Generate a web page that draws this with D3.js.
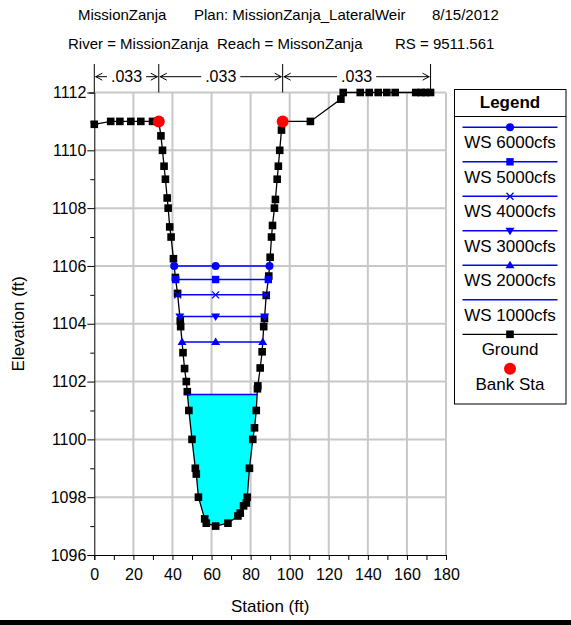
<!DOCTYPE html>
<html>
<head>
<meta charset="utf-8">
<script src="https://cdn.jsdelivr.net/npm/d3@7"></script>
<style>
  body { margin: 0; background: #fff; }
  svg { display: block; font-family: "Liberation Sans", Arial, sans-serif; }
</style>
</head>
<body>
<svg id="chart" width="571" height="625"></svg>
<script>
// Cross section ground survey: station (ft) and elevation (ft)
const groundStation = [
  0, 8.4, 13.1, 18.7, 23.8, 29.8, 33.0,
  34.1, 34.9, 35.7, 36.4, 37.3, 37.8, 38.6, 39.3, 40.5,
  41.5, 42.6, 44.0, 44.2, 45.4, 46.2, 47.1, 47.6, 48.4,
  50.0, 51.7, 52.2, 53.3, 56.5, 57.3, 62.1, 68.4, 73.5, 74.7, 76.4, 77.8, 78.3,
  79.4, 81.1, 82.0, 82.9, 83.5, 83.7, 84.9, 85.9, 86.7, 87.1, 88.0, 89.3,
  90.0, 90.7, 91.2, 92.2, 92.7, 93.6, 94.2, 94.9, 95.8, 96.4,
  110.6, 126.2, 127.4, 136.1, 140.7, 145.3, 149.7, 154.0, 164.5, 167.3, 169.6, 172.1
];
const groundElev = [
  1110.9, 1111.0, 1111.0, 1111.0, 1111.0, 1111.0, 1111.0,
  1110.5, 1110.0, 1109.45, 1109.0, 1108.35, 1108.0, 1107.35, 1107.0, 1106.25,
  1105.6, 1105.05, 1104.1, 1103.9, 1103.0, 1102.45, 1102.0, 1101.65, 1101.0,
  1100.0, 1099.0, 1098.8, 1098.0, 1097.25, 1097.1, 1097.0, 1097.1, 1097.35, 1097.45, 1097.7, 1097.8, 1098.0,
  1099.0, 1100.0, 1100.4, 1101.0, 1101.75, 1101.85, 1102.47, 1103.03, 1103.9, 1104.18, 1104.98, 1105.65,
  1106.3, 1107.0, 1107.4, 1108.0, 1108.3, 1109.0, 1109.45, 1110.0, 1110.7, 1111.0,
  1111.0, 1111.77, 1112.0, 1112.0, 1112.0, 1112.0, 1112.0, 1112.0, 1112.0, 1112.0, 1112.0, 1112.0
];

// Bank stations
const bankStations = [33.0, 96.4];
const bankElev = [1111.0, 1111.0];

// Manning's n regions
const nBreaks = [0, 33.0, 96.4, 172.1];
const nValues = [".033", ".033", ".033"];

// Water surface profiles
const profileNames = ["WS 6000cfs", "WS 5000cfs", "WS 4000cfs", "WS 3000cfs", "WS 2000cfs", "WS 1000cfs"];
const profileElev = [1106.0, 1105.53, 1105.0, 1104.25, 1103.37, 1101.55];
const profileSymbol = ["circle", "square", "cross", "triangleDown", "triangleUp", "none"];

// Axis ticks
const xTicks = [0, 20, 40, 60, 80, 100, 120, 140, 160, 180];
const yTicks = [1096, 1098, 1100, 1102, 1104, 1106, 1108, 1110, 1112];

const titleLine1 = [["MissionZanja", 78], ["Plan: MissionZanja_LateralWeir", 194], ["8/15/2012", 432]];
const titleLine2 = [["River = MissionZanja", 68], ["Reach = MissonZanja", 217], ["RS = 9511.561", 395]];

const svg = d3.select("#chart");
const blue = "#0000ff";
const sq = 7.6; // ground point marker size

const x = d3.scaleLinear().domain([0, 180]).range([94.3, 446]);
const y = d3.scaleLinear().domain([1096, 1112]).range([555, 92.5]);

const ground = groundStation.map((s, i) => ({ s, e: groundElev[i] }));

// Titles
svg.append("g").selectAll("text").data(titleLine1).join("text")
  .attr("x", d => d[1]).attr("y", 20).attr("font-size", 15).text(d => d[0]);
svg.append("g").selectAll("text").data(titleLine2).join("text")
  .attr("x", d => d[1]).attr("y", 49).attr("font-size", 15).text(d => d[0]);

// Gridlines
const grid = svg.append("g").attr("stroke", "#c8c8c8").attr("stroke-width", 2);
grid.selectAll("line.v").data(xTicks.slice(1)).join("line")
  .attr("x1", d => x(d)).attr("x2", d => x(d)).attr("y1", y(1096)).attr("y2", y(1112));
grid.selectAll("line.h").data(yTicks.slice(1)).join("line")
  .attr("x1", x(0)).attr("x2", x(180)).attr("y1", d => y(d)).attr("y2", d => y(d));

// Axes
const xAxis = d3.axisBottom(x).tickValues(d3.range(0, 181, 10)).tickSize(5)
  .tickFormat(d => xTicks.includes(d) ? d : "");
const gx = svg.append("g").attr("transform", `translate(0,${y(1096)})`).call(xAxis);
gx.select(".domain").attr("stroke", "#000");
gx.selectAll("text").attr("font-size", 16).attr("fill", "#000")
  .attr("font-family", "Liberation Sans, Arial, sans-serif").attr("dy", "1.05em");

const yAxis = d3.axisLeft(y).tickValues(d3.range(1096, 1113, 1)).tickSize(5)
  .tickFormat(d => yTicks.includes(d) ? d : "");
const gy = svg.append("g").attr("transform", `translate(${x(0)},0)`).call(yAxis);
gy.select(".domain").attr("stroke", "#000");
gy.selectAll(".tick line").attr("x2", d => yTicks.includes(d) ? -7 : -4);
gy.selectAll("text").attr("font-size", 16).attr("fill", "#000").attr("x", -8)
  .attr("font-family", "Liberation Sans, Arial, sans-serif");

svg.append("text").attr("x", (x(0) + x(180)) / 2).attr("y", 612)
  .attr("text-anchor", "middle").attr("font-size", 17).text("Station (ft)");
svg.append("text").attr("transform", `translate(24,${(y(1096) + y(1112)) / 2}) rotate(-90)`)
  .attr("text-anchor", "middle").attr("font-size", 17).text("Elevation (ft)");

// Where a water surface meets the ground on each side of the thalweg
const thalweg = d3.minIndex(ground, d => d.e);
function crossing(elev, dir) {
  let i = thalweg;
  while (i + dir >= 0 && i + dir < ground.length && ground[i + dir].e < elev) i += dir;
  const a = ground[i], b = ground[i + dir];
  const t = (elev - a.e) / (b.e - a.e);
  return { s: a.s + t * (b.s - a.s), i };
}

// Lowest profile: filled water area
const lowIdx = profileElev.length - 1;
const lowE = profileElev[lowIdx];
const L = crossing(lowE, -1), R = crossing(lowE, 1);
const waterPts = [{ s: L.s, e: lowE }]
  .concat(ground.slice(L.i, R.i + 1))
  .concat([{ s: R.s, e: lowE }]);
svg.append("path")
  .attr("d", d3.line().x(d => x(d.s)).y(d => y(d.e))(waterPts) + "Z")
  .attr("fill", "#00ffff").attr("stroke", "none");

// Ground line and points
svg.append("path")
  .attr("d", d3.line().x(d => x(d.s)).y(d => y(d.e))(ground))
  .attr("fill", "none").attr("stroke", "#000").attr("stroke-width", 1.3);
svg.append("g").selectAll("rect").data(ground).join("rect")
  .attr("x", d => x(d.s) - sq / 2).attr("y", d => y(d.e) - sq / 2)
  .attr("width", sq).attr("height", sq).attr("fill", "#000");

// Bank stations
svg.append("g").selectAll("circle").data(bankStations).join("circle")
  .attr("cx", d => x(d)).attr("cy", (d, i) => y(bankElev[i])).attr("r", 6).attr("fill", "#ff0000");

// Marker drawing
function marker(g, type, cx, cy) {
  if (type === "circle") {
    g.append("circle").attr("cx", cx).attr("cy", cy).attr("r", 4).attr("fill", blue);
  } else if (type === "square") {
    g.append("rect").attr("x", cx - 3.7).attr("y", cy - 3.7).attr("width", 7.4).attr("height", 7.4).attr("fill", blue);
  } else if (type === "cross") {
    g.append("path").attr("d", `M${cx - 3.5},${cy - 3.5}L${cx + 3.5},${cy + 3.5}M${cx - 3.5},${cy + 3.5}L${cx + 3.5},${cy - 3.5}`)
      .attr("stroke", blue).attr("stroke-width", 1.3).attr("fill", "none");
  } else if (type === "triangleDown") {
    g.append("path").attr("d", `M${cx - 4.5},${cy - 3}L${cx + 4.5},${cy - 3}L${cx},${cy + 4.5}Z`).attr("fill", blue);
  } else if (type === "triangleUp") {
    g.append("path").attr("d", `M${cx - 4.5},${cy + 3}L${cx + 4.5},${cy + 3}L${cx},${cy - 4.5}Z`).attr("fill", blue);
  }
}

// Water surface lines
const ws = svg.append("g");
profileElev.forEach((e, k) => {
  const l = crossing(e, -1).s, r = crossing(e, 1).s;
  ws.append("line").attr("x1", x(l)).attr("x2", x(r)).attr("y1", y(e)).attr("y2", y(e))
    .attr("stroke", blue).attr("stroke-width", 1.5);
  [l, ground[thalweg].s, r].forEach(s => marker(ws, profileSymbol[k], x(s), y(e)));
});

// Manning's n regions above the plot
const nY = 76.7;
const ng = svg.append("g").attr("stroke", "#000").attr("fill", "none").attr("stroke-width", 1);
nBreaks.forEach(b => {
  ng.append("line").attr("x1", x(b)).attr("x2", x(b)).attr("y1", 64).attr("y2", y(1112));
});
nValues.forEach((v, i) => {
  const x0 = x(nBreaks[i]), x1 = x(nBreaks[i + 1]), cx = (x0 + x1) / 2;
  const t = svg.append("text").attr("x", cx).attr("y", nY + 5.5).attr("text-anchor", "middle")
    .attr("font-size", 16).text(v);
  const w = t.node().getComputedTextLength();
  ng.append("line").attr("x1", x0 + 1).attr("x2", cx - w / 2 - 4).attr("y1", nY).attr("y2", nY);
  ng.append("line").attr("x1", cx + w / 2 + 4).attr("x2", x1 - 1).attr("y1", nY).attr("y2", nY);
  ng.append("path").attr("d", `M${x0 + 8},${nY - 3.5}L${x0 + 1.5},${nY}L${x0 + 8},${nY + 3.5}`);
  ng.append("path").attr("d", `M${x1 - 8},${nY - 3.5}L${x1 - 1.5},${nY}L${x1 - 8},${nY + 3.5}`);
});

// Legend
const lg = svg.append("g");
const lx0 = 454.5, lx1 = 566, ly0 = 89.5, ly1 = 404;
lg.append("rect").attr("x", lx0).attr("y", ly0).attr("width", lx1 - lx0).attr("height", ly1 - ly0)
  .attr("fill", "#fff").attr("stroke", "#000");
lg.append("line").attr("x1", lx0).attr("x2", lx1).attr("y1", 116.5).attr("y2", 116.5).attr("stroke", "#000");
const lcx = 510;
lg.append("text").attr("x", lcx).attr("y", 108).attr("text-anchor", "middle")
  .attr("font-size", 17).attr("font-weight", "bold").text("Legend");
const rowY = i => 127.3 + i * 34.5;
profileNames.forEach((n, i) => {
  const yy = rowY(i);
  lg.append("line").attr("x1", 462.5).attr("x2", 557.5).attr("y1", yy).attr("y2", yy)
    .attr("stroke", blue).attr("stroke-width", 1.5);
  marker(lg, profileSymbol[i], lcx, yy);
  lg.append("text").attr("x", lcx).attr("y", yy + 21).attr("text-anchor", "middle").attr("font-size", 17).text(n);
});
{
  const yy = rowY(6);
  lg.append("line").attr("x1", 462.5).attr("x2", 557.5).attr("y1", yy).attr("y2", yy)
    .attr("stroke", "#000").attr("stroke-width", 1.3);
  lg.append("rect").attr("x", lcx - sq / 2).attr("y", yy - sq / 2).attr("width", sq).attr("height", sq).attr("fill", "#000");
  lg.append("text").attr("x", lcx).attr("y", yy + 21).attr("text-anchor", "middle").attr("font-size", 17).text("Ground");
  const yb = rowY(7);
  lg.append("circle").attr("cx", lcx).attr("cy", yb).attr("r", 6).attr("fill", "#ff0000");
  lg.append("text").attr("x", lcx).attr("y", yb + 21).attr("text-anchor", "middle").attr("font-size", 17).text("Bank Sta");
}

// Bottom border
svg.append("rect").attr("x", 0).attr("y", 620).attr("width", 571).attr("height", 5).attr("fill", "#000");
</script>
</body>
</html>
